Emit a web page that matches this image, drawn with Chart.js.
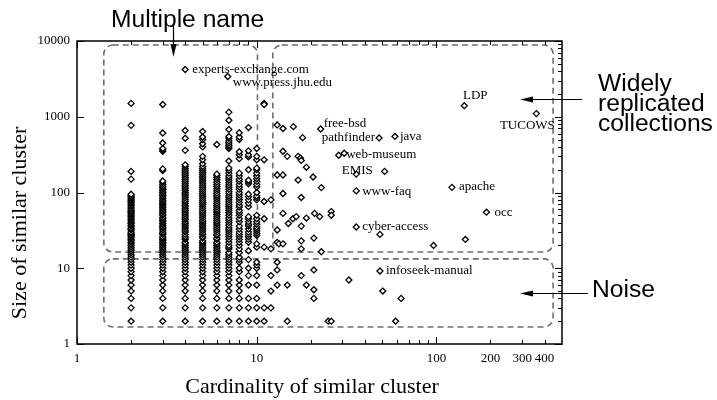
<!DOCTYPE html>
<html>
<head>
<meta charset="utf-8">
<script src="https://cdn.jsdelivr.net/npm/chart.js@4/dist/chart.umd.min.js"></script>
<style>
  body { margin: 0; background: #fff; }
  canvas { display: block; }
</style>
</head>
<body>
<canvas id="clusterChart" width="717" height="400"></canvas>
<script>
// cardinality columns that hold many clusters, and the cluster sizes read for each
const denseX = [2, 3, 4, 5, 6, 7, 8, 9, 10];
const denseY = [
    [2,3,4,5,6,7,8,9,10,11,12,13,14,15,16,17,18,19,20,21,22,23,24,25,26,27,28,29,30,32,33,34,36,37,39,40,42,44,46,48,50,52,54,56,58,61,64,67,70,73,76,79,82,85,88,91,95,150,190,770,1500],
    [2,3,4,5,6,7,8,9,10,11,12,13,14,15,16,17,18,19,20,21,22,23,24,25,26,28,29,30,32,34,35,37,39,41,43,45,47,50,52,55,57,60,63,66,69,72,75,79,83,87,91,95,100,105,110,115,120,128,135,142,195,205,350,365,380,450,610,1450],
    [2,3,4,5,6,7,8,9,10,11,12,13,14,15,16,17,18,19,20,21,22,24,25,26,28,30,31,33,35,37,39,41,44,46,49,52,55,58,61,65,68,72,76,80,85,90,95,100,106,112,118,125,132,140,148,157,166,176,186,197,208,220,232,360,520,660],
    [2,3,4,5,6,7,8,9,10,11,12,13,14,15,16,17,18,19,20,21,22,23,25,26,28,29,31,33,35,37,39,41,43,46,49,52,55,58,62,66,70,74,78,83,88,93,98,104,110,116,123,130,138,146,155,164,174,184,195,207,220,240,270,300,400,440,500,540,640],
    [2,3,4,5,6,7,8,9,10,11,12,13,14,15,16,17,18,19,20,21,22,24,25,27,28,30,32,34,36,38,40,42,45,48,51,54,57,60,64,68,72,77,82,87,92,98,105,112,120,128,137,147,157,167,175,430],
    [2,3,4,5,6,7,8,9,10,11,12,13,14,15,16,18,19,20,22,24,26,28,30,32,34,37,40,43,46,50,54,58,62,66,70,75,80,85,90,96,102,110,118,126,135,145,155,165,180,195,210,260,380,400,420,450,480,520,550,680,900,1150],
    [2,3,4,5,6,7,9,10,12,13,14,16,18,20,22,24,26,28,30,33,36,41,45,50,54,58,64,68,74,80,86,93,100,110,118,128,140,150,165,180,280,315,345,500,540,615],
    [2,3,4,6,8,10,13,17,22,24,26,28,30,33,36,38,41,45,48,65,72,80,88,95,130,138,145,200,295,315,355,720],
    [2,3,4,6,8,10,11,12,19,21,27,29,31,33,35,38,41,45,50,80,85,90,100,118,128,140,152,165,180,200,210,270,300,380]
];

// scattered clusters of larger cardinality (unlabelled)
const sparseX = [11, 11, 11, 11, 11, 11, 11, 11,
                 12, 12, 12, 12, 12,
                 13, 13, 13, 13, 13, 13, 13, 13.3,
                 14, 14, 14, 14, 14, 14,
                 14.8, 14.8, 14.8,
                 15, 15.9, 16, 16.6,
                 17, 17, 17.5, 17.7, 17.7, 17.7, 17.7, 17.7, 17.7,
                 18, 18.9, 18.9, 18.9,
                 20.6, 20.8, 20.8, 20.8, 20.8,
                 21, 22.4, 22.9, 22.9,
                 25, 26, 26, 26,
                 28.6, 32.6, 48.5, 50.3, 51.5, 59.3, 63.6, 96.4, 145];
const sparseY = [1500, 1450, 270, 76, 45, 19, 3, 2,
                 80, 18, 8, 5, 3,
                 780, 170, 32, 22, 12, 9.5, 6, 21,
                 700, 350, 170, 97, 53, 21,
                 300, 6, 2,
                 39, 45, 740, 48,
                 146, 300, 285, 265, 86, 36, 23, 18, 8,
                 530, 215, 46, 6,
                 160, 25, 9.5, 5.2, 4,
                 53, 48, 116, 16.5,
                 2, 2, 56, 50,
                 310, 7, 28, 5, 190, 2, 4, 20, 24];

// named clusters
const labelNames = ['experts-exchange.com', 'www.press.jhu.edu', 'free-bsd', 'pathfinder', 'java', 'web-museum', 'EMIS',
                    'www-faq', 'LDP', 'TUCOWS', 'apache', 'occ', 'cyber-access', 'infoseek-manual'];
const labelX = [4, 6.9, 22.7, 48, 58.8, 30.7, 35.8, 35.8, 143, 360, 122, 190, 35.8, 48.5];
const labelY = [4200, 3400, 690, 525, 550, 330, 175, 105, 1400, 1100, 117, 55, 35, 9.2];

const xTickValues = [1, 10, 100, 200, 300, 400];
const yTickValues = [1, 10, 100, 1000, 10000];
const xMinorTicks = [2, 3, 4, 5, 6, 7, 8, 9, 20, 30, 40, 50, 60, 70, 80, 90, 200, 300, 400];
const yMinorTicks = [2, 3, 4, 5, 6, 7, 8, 9, 20, 30, 40, 50, 60, 70, 80, 90, 200, 300, 400, 500, 600, 700, 800, 900,
                     2000, 3000, 4000, 5000, 6000, 7000, 8000, 9000];

const SERIF = '"Liberation Serif", "Times New Roman", serif';
const SANS = '"Liberation Sans", Arial, sans-serif';

// label placement relative to its marker: [dx, dy, align]
const labelOffsets = [[7, 0, 'left'], [5, 6, 'left'], [3, -5, 'left'], [-4, 0, 'right'], [5, 0, 'left'], [2, 1, 'left'],
                      [1, -4, 'center'], [6, 1, 'left'], [11, -10, 'center'], [-9, 12, 'center'], [7, -1, 'left'],
                      [8, 0, 'left'], [6, 0, 'left'], [6, 0, 'left']];

const points = [];
denseX.forEach((x, i) => denseY[i].forEach(y => points.push({ x: x, y: y })));
sparseX.forEach((x, i) => points.push({ x: x, y: sparseY[i] }));
labelX.forEach((x, i) => points.push({ x: x, y: labelY[i] }));

function roundBox(ctx, x0, y0, x1, y1, r) {
    ctx.beginPath();
    ctx.moveTo(x0 + r, y0);
    ctx.lineTo(x1 - r, y0);
    ctx.arcTo(x1, y0, x1, y0 + r, r);
    ctx.lineTo(x1, y1 - r);
    ctx.arcTo(x1, y1, x1 - r, y1, r);
    ctx.lineTo(x0 + r, y1);
    ctx.arcTo(x0, y1, x0, y1 - r, r);
    ctx.lineTo(x0, y0 + r);
    ctx.arcTo(x0, y0, x0 + r, y0, r);
    ctx.closePath();
    ctx.stroke();
}

function arrowLeft(ctx, xFrom, xTip, y) {
    ctx.beginPath();
    ctx.moveTo(xFrom, y);
    ctx.lineTo(xTip + 10, y);
    ctx.stroke();
    ctx.beginPath();
    ctx.moveTo(xTip, y);
    ctx.lineTo(xTip + 13, y - 3);
    ctx.lineTo(xTip + 13, y + 3);
    ctx.closePath();
    ctx.fill();
}

function sansText(ctx, text, x, y) {
    ctx.save();
    ctx.translate(x, y);
    ctx.scale(1.07, 1);
    ctx.fillText(text, 0, 0);
    ctx.restore();
}

const decorPlugin = {
    id: 'decor',
    beforeDatasetsDraw(chart) {
        const ctx = chart.ctx;
        const xs = chart.scales.x, ys = chart.scales.y;
        const px = v => xs.getPixelForValue(v), py = v => ys.getPixelForValue(v);
        ctx.save();
        ctx.strokeStyle = '#6e6e6e';
        ctx.lineWidth = 1.6;
        ctx.setLineDash([6, 4]);
        roundBox(ctx, px(1.41), py(8850), px(10.1), py(16.4), 9);
        roundBox(ctx, px(12.3), py(8850), px(446), py(16.4), 9);
        roundBox(ctx, px(1.41), py(13.3), px(446), py(1.68), 9);
        ctx.restore();
    },
    afterDatasetsDraw(chart) {
        const ctx = chart.ctx;
        const area = chart.chartArea;
        const xs = chart.scales.x, ys = chart.scales.y;
        ctx.save();

        // frame
        ctx.strokeStyle = '#000';
        ctx.lineWidth = 1.5;
        ctx.strokeRect(area.left, area.top, area.right - area.left, area.bottom - area.top);

        // inward ticks
        ctx.lineWidth = 1;
        ctx.beginPath();
        [1, 10, 100].forEach(v => {
            const x = Math.round(xs.getPixelForValue(v)) + 0.5;
            ctx.moveTo(x, area.bottom); ctx.lineTo(x, area.bottom - 7);
            ctx.moveTo(x, area.top); ctx.lineTo(x, area.top + 7);
        });
        xMinorTicks.forEach(v => {
            const x = Math.round(xs.getPixelForValue(v)) + 0.5;
            ctx.moveTo(x, area.bottom); ctx.lineTo(x, area.bottom - 4);
            ctx.moveTo(x, area.top); ctx.lineTo(x, area.top + 4);
        });
        yTickValues.forEach(v => {
            const y = Math.round(ys.getPixelForValue(v)) + 0.5;
            ctx.moveTo(area.left, y); ctx.lineTo(area.left + 7, y);
            ctx.moveTo(area.right, y); ctx.lineTo(area.right - 7, y);
        });
        yMinorTicks.forEach(v => {
            const y = Math.round(ys.getPixelForValue(v)) + 0.5;
            ctx.moveTo(area.right, y); ctx.lineTo(area.right - 4, y);
        });
        ctx.stroke();

        // point names
        ctx.fillStyle = '#000';
        ctx.font = '13px ' + SERIF;
        ctx.textBaseline = 'middle';
        labelNames.forEach((name, i) => {
            const o = labelOffsets[i];
            ctx.textAlign = o[2];
            ctx.fillText(name, xs.getPixelForValue(labelX[i]) + o[0], ys.getPixelForValue(labelY[i]) + o[1]);
        });

        // axis titles
        ctx.font = '22px ' + SERIF;
        ctx.textAlign = 'center';
        ctx.fillText('Cardinality of similar cluster', 312, 387);
        ctx.save();
        ctx.translate(20, 223);
        ctx.rotate(-Math.PI / 2);
        ctx.fillText('Size of similar cluster', 0, 0);
        ctx.restore();

        // annotations
        ctx.font = '23px ' + SANS;
        ctx.textBaseline = 'alphabetic';
        ctx.textAlign = 'left';
        sansText(ctx, 'Multiple name', 111, 27);
        sansText(ctx, 'Widely', 598, 91);
        sansText(ctx, 'replicated', 598, 111);
        sansText(ctx, 'collections', 598, 131);
        sansText(ctx, 'Noise', 592, 297);

        ctx.strokeStyle = '#000';
        ctx.lineWidth = 1.2;
        ctx.beginPath();
        ctx.moveTo(173.5, 26);
        ctx.lineTo(173.5, 47);
        ctx.stroke();
        ctx.beginPath();
        ctx.moveTo(173.5, 57);
        ctx.lineTo(170.5, 44);
        ctx.lineTo(176.5, 44);
        ctx.closePath();
        ctx.fill();
        arrowLeft(ctx, 582, 520, 99.5);
        arrowLeft(ctx, 588, 520, 293.5);

        ctx.restore();
    }
};

const ctx = document.getElementById('clusterChart').getContext('2d');
const clusterChart = new Chart(ctx, {
    type: 'scatter',
    data: {
        datasets: [{
            data: points,
            pointStyle: 'rectRot',
            pointRadius: 3,
            pointBorderWidth: 1.3,
            borderColor: '#000',
            backgroundColor: '#fff'
        }]
    },
    options: {
        responsive: false,
        animation: false,
        events: [],
        layout: { padding: { top: 41, right: 155, left: 0, bottom: 0 } },
        plugins: {
            legend: { display: false },
            tooltip: { enabled: false }
        },
        scales: {
            x: {
                type: 'logarithmic',
                min: 1,
                max: 500,
                afterFit: scale => { scale.height = 56; },
                afterBuildTicks: scale => { scale.ticks = xTickValues.map(v => ({ value: v })); },
                ticks: {
                    autoSkip: false,
                    maxRotation: 0,
                    padding: 7,
                    color: '#000',
                    font: { family: SERIF, size: 13 },
                    callback: v => String(v)
                },
                grid: { display: false, drawTicks: false },
                border: { display: false }
            },
            y: {
                type: 'logarithmic',
                min: 1,
                max: 10000,
                afterFit: scale => { scale.width = 77; },
                afterBuildTicks: scale => { scale.ticks = yTickValues.map(v => ({ value: v })); },
                ticks: {
                    autoSkip: false,
                    padding: 7,
                    color: '#000',
                    font: { family: SERIF, size: 13 },
                    callback: v => String(v)
                },
                grid: { display: false, drawTicks: false },
                border: { display: false }
            }
        }
    },
    plugins: [decorPlugin]
});
</script>
</body>
</html>
